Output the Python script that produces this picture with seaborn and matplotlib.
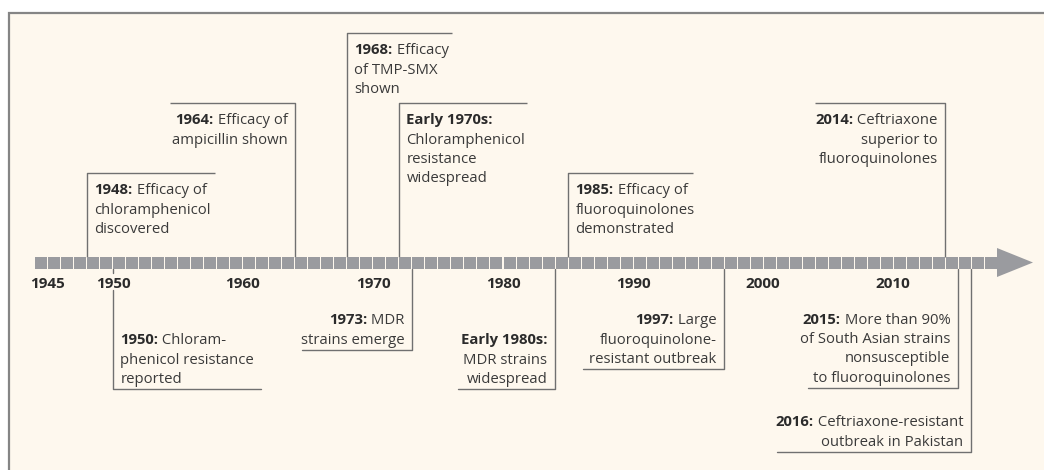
import matplotlib
matplotlib.use("Agg")
import matplotlib.pyplot as plt
import seaborn as sns
from matplotlib.patches import Rectangle

# ---------------- data ----------------
tick_years = [1945, 1950, 1960, 1970, 1980, 1990, 2000, 2010]
tick_labels = ["1945", "1950", "1960", "1970", "1980", "1990", "2000", "2010"]
timeline_start = 1944
timeline_end = 2018

event_years = [1948, 1964, 1968, 1972, 1985, 2014,
               1950, 1973, 1984, 1997, 2015, 2016]
event_heads = ["1948:", "1964:", "1968:", "Early 1970s:", "1985:", "2014:",
               "1950:", "1973:", "Early 1980s:", "1997:", "2015:", "2016:"]
event_first = [" Efficacy of", " Efficacy of", " Efficacy", "", " Efficacy of", " Ceftriaxone",
               " Chloram-", " MDR", "", " Large", " More than 90%", " Ceftriaxone-resistant"]
event_rest = [
    ["chloramphenicol", "discovered"],
    ["ampicillin shown"],
    ["of TMP-SMX", "shown"],
    ["Chloramphenicol", "resistance", "widespread"],
    ["fluoroquinolones", "demonstrated"],
    ["superior to", "fluoroquinolones"],
    ["phenicol resistance", "reported"],
    ["strains emerge"],
    ["MDR strains", "widespread"],
    ["fluoroquinolone-", "resistant outbreak"],
    ["of South Asian strains", "nonsusceptible", "to fluoroquinolones"],
    ["outbreak in Pakistan"],
]

# ---------------- layout (pixels) ----------------
W, H = 1044, 470
X0_PX, PX_PER_YEAR = 113, 13.0


def px2yr(px):
    return 1950 + (px - X0_PX) / PX_PER_YEAR


# (side, end y of connector, x of other end of horizontal rule, text alignment)
layout = [
    ("up", 173, 215, "left"),
    ("up", 103, 170, "right"),
    ("up", 33, 452, "left"),
    ("up", 103, 527, "left"),
    ("up", 173, 693, "left"),
    ("up", 103, 815, "right"),
    ("down", 389, 261, "left"),
    ("down", 350, 302, "right"),
    ("down", 389, 458, "right"),
    ("down", 369, 583, "right"),
    ("down", 388, 808, "right"),
    ("down", 452, 777, "right"),
]

BAR_TOP, BAR_BOT = 257, 269
BAR_MID = 263
LINE_H = 19.5
FS = 10.7
TICK_FS = 11.0
BG = "#FEF8EE"
BAR_C = "#9A9B9F"
LINE_C = "#707070"
BOLD_C = "#2B2B2B"
TXT_C = "#3A3A3A"

sns.set_theme(style="white")
plt.rcParams["font.family"] = ["Open Sans", "DejaVu Sans"]

fig = plt.figure(figsize=(W / 100, H / 100), dpi=100, facecolor="white")
ax = fig.add_axes([0, 0, 1, 1])
ax.set_xlim(px2yr(0), px2yr(W))
ax.set_ylim(H, 0)
ax.axis("off")

# panel background with frame (left and top edges visible)
ax.add_patch(Rectangle((px2yr(9.5), 12.5), 200, 600, facecolor=BG,
                       edgecolor="#858585", linewidth=1.6, zorder=0))

# timeline segments
seg_x = [y + 0.5 for y in range(timeline_start, timeline_end)]
sns.scatterplot(x=seg_x, y=[BAR_MID] * len(seg_x), marker="s", s=70,
                color=BAR_C, linewidth=0, ax=ax, zorder=3, legend=False)
# arrow head
ax.fill([timeline_end, px2yr(1033), timeline_end], [248, 262.5, 277],
        color=BAR_C, linewidth=0, zorder=3)

# tick labels
for yr, lab in zip(tick_years, tick_labels):
    ax.text(yr, 288.5, lab, ha="center", va="baseline", fontsize=TICK_FS,
            fontweight="bold", color=BOLD_C, zorder=4)

fig.canvas.draw()
renderer = fig.canvas.get_renderer()


def text_width_years(t):
    bb = t.get_window_extent(renderer=renderer)
    return bb.width / PX_PER_YEAR


for yr, head, first, rest, (side, yend, xother, align) in zip(
        event_years, event_heads, event_first, event_rest, layout):
    n = 1 + len(rest)
    if side == "up":
        ax.plot([yr, yr, px2yr(xother)], [BAR_TOP, yend, yend],
                color=LINE_C, lw=1.0, zorder=2, solid_capstyle="butt")
        c0 = yend + 16
    else:
        if yr == 1950:
            ax.plot([yr, yr], [BAR_BOT, 273], color=LINE_C, lw=1.0, zorder=2)
            ax.plot([yr, yr, px2yr(xother)], [290, yend, yend],
                    color=LINE_C, lw=1.0, zorder=2)
        else:
            ax.plot([yr, yr, px2yr(xother)], [BAR_BOT, yend, yend],
                    color=LINE_C, lw=1.0, zorder=2)
        c0 = yend - 11 - LINE_H * (n - 1)
    base = [c0 + 5 + LINE_H * i for i in range(n)]
    if align == "left":
        tx = yr + 7.5 / PX_PER_YEAR
        tb = ax.text(tx, base[0], head, ha="left", va="baseline", fontsize=FS,
                     fontweight="bold", color=BOLD_C)
        if first:
            w = text_width_years(tb)
            ax.text(tx + w, base[0], first, ha="left", va="baseline",
                    fontsize=FS, color=TXT_C)
        for b, line in zip(base[1:], rest):
            ax.text(tx, b, line, ha="left", va="baseline", fontsize=FS, color=TXT_C)
    else:
        tx = yr - 7.5 / PX_PER_YEAR
        if first:
            tr = ax.text(tx, base[0], first, ha="right", va="baseline",
                         fontsize=FS, color=TXT_C)
            w = text_width_years(tr)
        else:
            w = 0
        ax.text(tx - w, base[0], head, ha="right", va="baseline", fontsize=FS,
                fontweight="bold", color=BOLD_C)
        for b, line in zip(base[1:], rest):
            ax.text(tx, b, line, ha="right", va="baseline", fontsize=FS, color=TXT_C)

fig.savefig("out.png", dpi=100, facecolor="white")
